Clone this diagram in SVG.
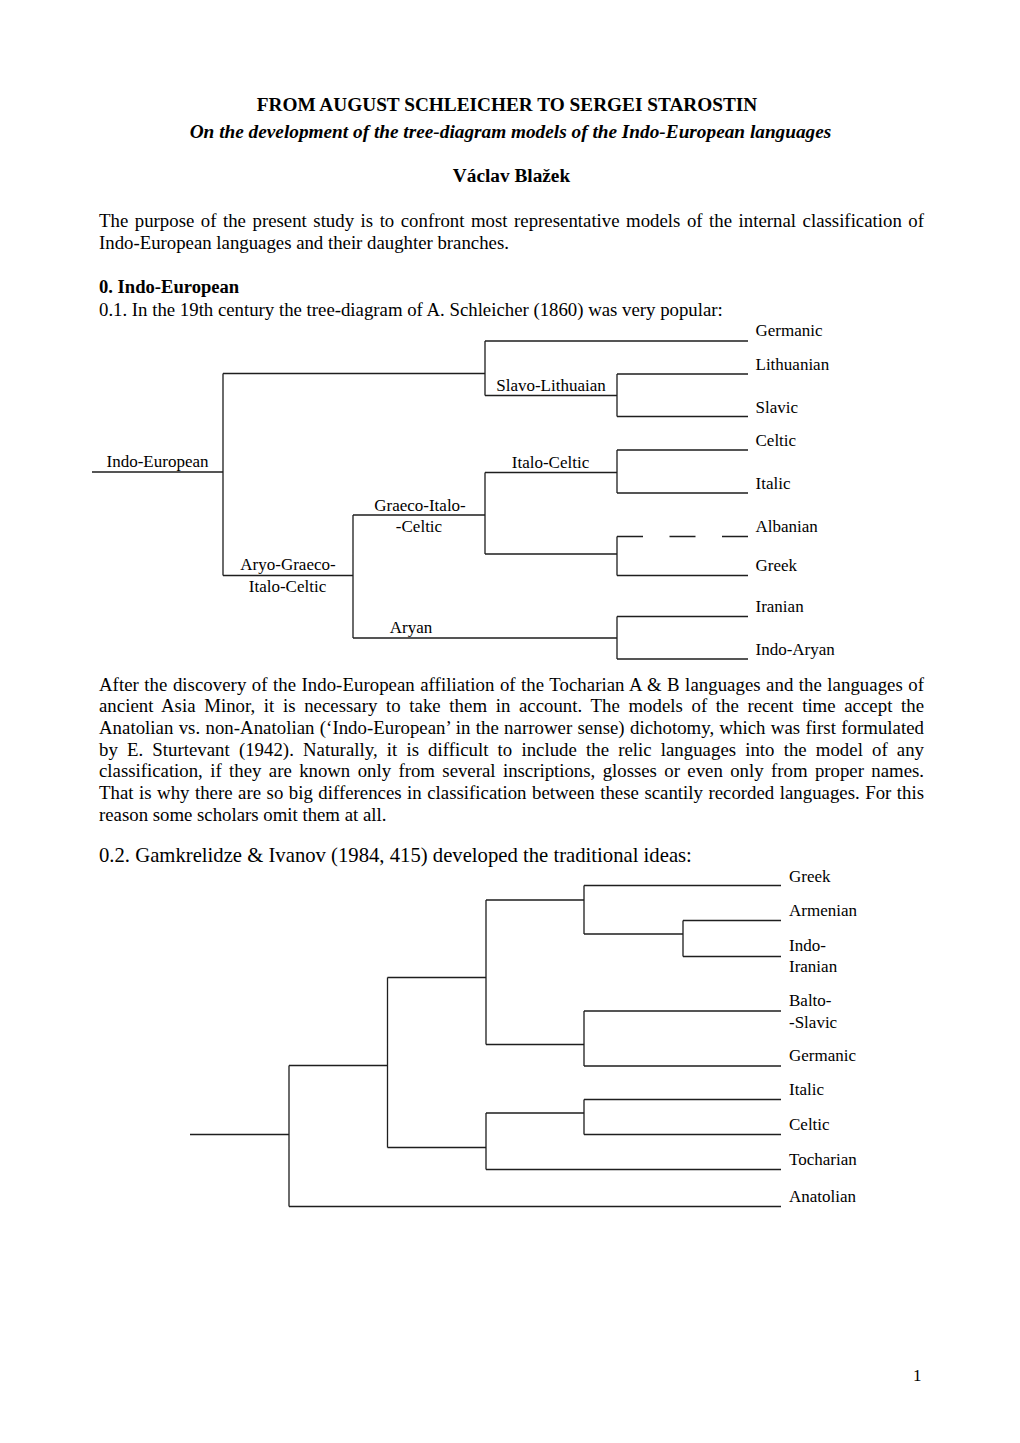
<svg xmlns="http://www.w3.org/2000/svg" width="1020" height="1443" viewBox="0 0 1020 1443">
<style>
text{font-family:"Liberation Serif","Times New Roman",serif;fill:#000}
.b{font-size:17px}
.p{font-size:18.8px}
.t{font-size:19.3px;font-weight:bold}
.sh{font-size:18.6px;font-weight:bold}
.st{font-size:19.3px;font-weight:bold;font-style:italic}
.h{font-size:20.7px}
.l{font-size:17px}
.c{text-anchor:middle}
.ln{fill:none;stroke:#1e1e1e;stroke-width:1.3}
.dash{stroke-dasharray:26 26.5}
</style>
<rect width="1020" height="1443" fill="#fff"/>
<g id="header">
<text class="t c" x="507" y="111">FROM AUGUST SCHLEICHER TO SERGEI STAROSTIN</text>
<text class="st c" x="510.5" y="137.5">On the development of the tree-diagram models of the Indo-European languages</text>
<text class="t c" x="511.5" y="181.5">Václav Blažek</text>
</g>
<g id="para1">
<text class="p" x="99" y="227" word-spacing="1.8" textLength="825" lengthAdjust="spacing">The purpose of the present study is to confront most representative models of the internal classification of</text>
<text class="p" x="99" y="249">Indo-European languages and their daughter branches.</text>
<text class="sh" x="99" y="292.5">0. Indo-European</text>
<text class="p" x="99" y="316">0.1. In the 19th century the tree-diagram of A. Schleicher (1860) was very popular:</text>
</g>
<g id="para2">
<text class="p" x="99" y="690.5" word-spacing="0.7" textLength="825" lengthAdjust="spacing">After the discovery of the Indo-European affiliation of the Tocharian A &amp; B languages and the languages of</text>
<text class="p" x="99" y="712" word-spacing="3.9" textLength="825" lengthAdjust="spacing">ancient Asia Minor, it is necessary to take them in account. The models of the recent time accept the</text>
<text class="p" x="99" y="733.5" word-spacing="0.6" textLength="825" lengthAdjust="spacing">Anatolian vs. non-Anatolian (‘Indo-European’ in the narrower sense) dichotomy, which was first formulated</text>
<text class="p" x="99" y="755.5" word-spacing="4.4" textLength="825" lengthAdjust="spacing">by E. Sturtevant (1942). Naturally, it is difficult to include the relic languages into the model of any</text>
<text class="p" x="99" y="777" word-spacing="2.7" textLength="825" lengthAdjust="spacing">classification, if they are known only from several inscriptions, glosses or even only from proper names.</text>
<text class="p" x="99" y="798.5" word-spacing="0.8" textLength="825" lengthAdjust="spacing">That is why there are so big differences in classification between these scantily recorded languages. For this</text>
<text class="p" x="99" y="820.5">reason some scholars omit them at all.</text>
<text class="h" x="99" y="862">0.2. Gamkrelidze &amp; Ivanov (1984, 415) developed the traditional ideas:</text>
</g>
<g id="page-number"><text class="b" x="913" y="1381">1</text></g>

<g id="connectors-tree1">
<path class="ln" d="M92 472H223M223 373.5V575.5M223 373.5H485M485 341V395.5M485 341H748M485 395.5H617M617 374V416.5M617 374H748M617 416.5H748"/>
<path class="ln" d="M223 575.5H353M353 515V638M353 515H485M485 472.5V554M485 472.5H617M617 450V493M617 450H748M617 493H748M485 554H617M617 536.5V575.5M617 575.5H748M353 638H617M617 616.5V659M617 616.5H748M617 659H748"/>
<path class="ln dash" d="M617 536.5H748"/>
</g>
<g id="tree1-nodes">
<g id="n-indo-european"><text class="l c" x="157.5" y="467">Indo-European</text></g>
<g id="n-slavo-lithuaian"><text class="l c" x="551" y="391">Slavo-Lithuaian</text></g>
<g id="n-italo-celtic"><text class="l c" x="550.5" y="467.5">Italo-Celtic</text></g>
<g id="n-graeco-italo-celtic"><text class="l c" x="420" y="510.5">Graeco-Italo-</text><text class="l c" x="419" y="531.5">-Celtic</text></g>
<g id="n-aryo-graeco-italo-celtic"><text class="l c" x="288" y="570">Aryo-Graeco-</text><text class="l c" x="287.5" y="591.5">Italo-Celtic</text></g>
<g id="n-aryan"><text class="l c" x="411" y="633">Aryan</text></g>
<g id="n-germanic"><text class="l" x="755.5" y="335.5">Germanic</text></g>
<g id="n-lithuanian"><text class="l" x="755.5" y="369.5">Lithuanian</text></g>
<g id="n-slavic"><text class="l" x="755.5" y="412.5">Slavic</text></g>
<g id="n-celtic"><text class="l" x="755.5" y="446">Celtic</text></g>
<g id="n-italic"><text class="l" x="755.5" y="489">Italic</text></g>
<g id="n-albanian"><text class="l" x="755.5" y="532">Albanian</text></g>
<g id="n-greek"><text class="l" x="755.5" y="571">Greek</text></g>
<g id="n-iranian"><text class="l" x="755.5" y="612">Iranian</text></g>
<g id="n-indo-aryan"><text class="l" x="755.5" y="655">Indo-Aryan</text></g>
</g>

<g id="connectors-tree2">
<path class="ln" d="M190 1134.5H289M289 1065.5V1206.5M289 1065.5H387.5M289 1206.5H781M387.5 977.5V1147.5M387.5 977.5H486M387.5 1147.5H486M486 900V1044.5M486 900H584M486 1044.5H584"/>
<path class="ln" d="M584 885.5V934M584 885.5H781M584 934H683M683 920.5V956.5M683 920.5H781M683 956.5H781M584 1011V1066M584 1011H781M584 1066H781M486 1113V1169.5M486 1113H584M486 1169.5H781M584 1099.5V1134.5M584 1099.5H781M584 1134.5H781"/>
</g>
<g id="tree2-nodes">
<g id="m-greek"><text class="l" x="789" y="882">Greek</text></g>
<g id="m-armenian"><text class="l" x="789" y="916">Armenian</text></g>
<g id="m-indo-iranian"><text class="l" x="789" y="950.5">Indo-</text><text class="l" x="789" y="972">Iranian</text></g>
<g id="m-balto-slavic"><text class="l" x="789" y="1006">Balto-</text><text class="l" x="789" y="1027.5">-Slavic</text></g>
<g id="m-germanic"><text class="l" x="789" y="1061">Germanic</text></g>
<g id="m-italic"><text class="l" x="789" y="1095">Italic</text></g>
<g id="m-celtic"><text class="l" x="789" y="1129.5">Celtic</text></g>
<g id="m-tocharian"><text class="l" x="789" y="1164.5">Tocharian</text></g>
<g id="m-anatolian"><text class="l" x="789" y="1202">Anatolian</text></g>
</g>
</svg>
